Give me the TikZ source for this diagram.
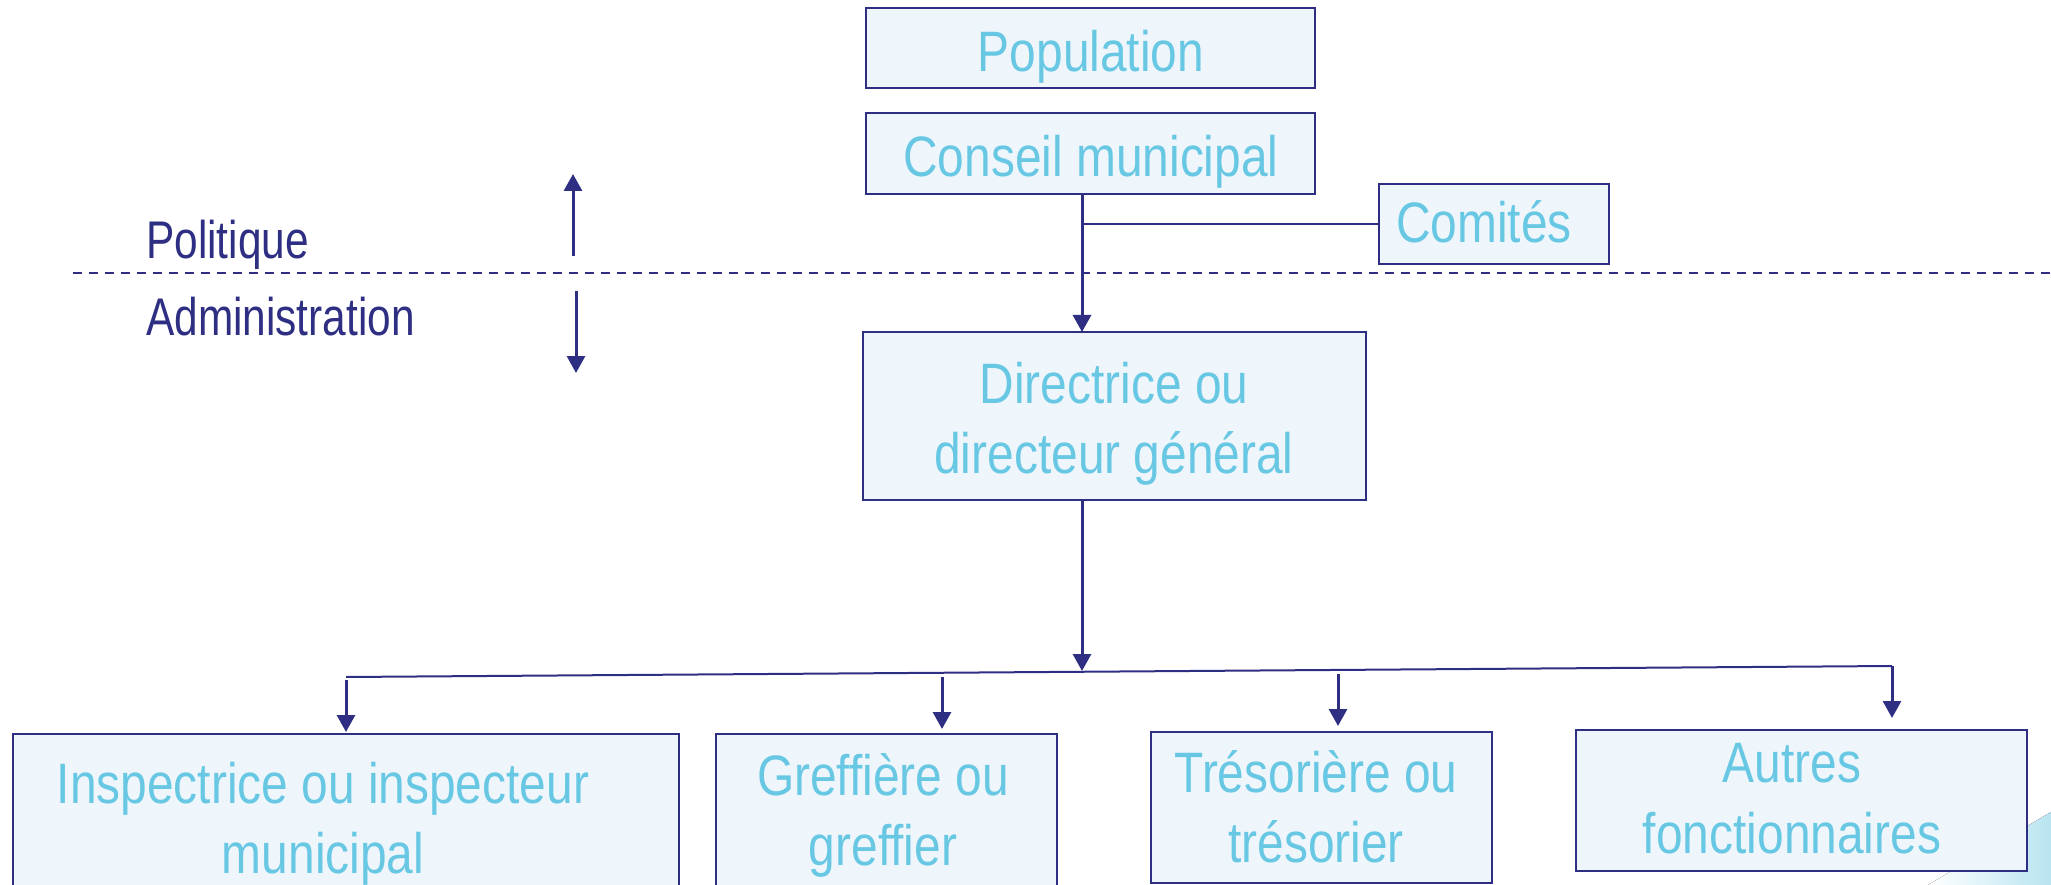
\documentclass[tikz,border=0pt]{standalone}
\usepackage{fontspec}
\setmainfont{Liberation Sans}[FakeStretch=0.84]
\newfontfamily\sidefont{Liberation Sans}[FakeStretch=0.8]
\usetikzlibrary{arrows.meta}
\definecolor{navy}{RGB}{46,46,130}
\definecolor{boxfill}{RGB}{238,246,252}
\definecolor{txtblue}{RGB}{104,200,228}
\definecolor{swoosh}{RGB}{184,228,240}
\begin{document}
\begin{tikzpicture}[x=1pt,y=-1pt,
  box/.style={draw=navy, line width=2.5pt, fill=boxfill, inner sep=0pt, outer sep=0pt},
  boxtxt/.style={text=txtblue, inner sep=0pt, anchor=base, font=\fontsize{57}{70}\selectfont},
  sidetxt/.style={text=navy, inner sep=0pt, anchor=base west, font=\sidefont\fontsize{53}{60}\selectfont},
  conn/.style={draw=navy, line width=2pt},
  arr/.style={draw=navy, line width=3pt, -{Triangle[width=18pt,length=17pt]}},
  sepline/.style={draw=navy, line width=2.5pt, dash pattern=on 9pt off 7pt}]
\useasboundingbox (0,0) rectangle (2051,885);
\clip (0,0) rectangle (2051,885);
% background swoosh
\fill[left color=white, right color=swoosh] (1928,885) -- (2051,812) -- (2051,885) -- cycle;

% separator
\coordinate (sepL) at (73,273);
\coordinate (sepR) at (2051,273);
\draw[sepline] (sepL) -- (sepR);

% side labels
\node[sidetxt] (pol) at (146,259) {Politique};
\node[sidetxt] (adm) at (146,335) {Administration};
\coordinate (upA) at (573,256);
\coordinate (upB) at (573,174);
\coordinate (dnA) at (576,291);
\coordinate (dnB) at (576,373);
\draw[arr] (upA) -- (upB);
\draw[arr] (dnA) -- (dnB);

% boxes
\node[box, minimum width=449pt, minimum height=80pt] (pop) at (1090.5,48) {};
\node[box, minimum width=449pt, minimum height=81pt] (cons) at (1090.5,153.5) {};
\node[box, minimum width=230pt, minimum height=80pt] (com) at (1494,224) {};
\node[box, minimum width=503pt, minimum height=168pt] (dir) at (1114.5,416) {};
\node[box, minimum width=666pt, minimum height=170pt] (insp) at (346,819) {};
\node[box, minimum width=341pt, minimum height=170pt] (gref) at (886.5,819) {};
\node[box, minimum width=341pt, minimum height=151pt] (tres) at (1321.5,807.5) {};
\node[box, minimum width=451pt, minimum height=141pt] (autr) at (1801.5,800.5) {};

% texts
\node[boxtxt] (popT) at (1091,72) {Population};
\node[boxtxt] (consT) at (1091,177) {Conseil municipal};
\node[boxtxt] (comT) at (1484,243) {Comités};
\node[boxtxt] (dirT1) at (1114,403) {Directrice ou};
\node[boxtxt] (dirT2) at (1114,473) {directeur général};
\node[boxtxt] (inspT1) at (323,803) {Inspectrice ou inspecteur};
\node[boxtxt] (inspT2) at (323,873) {municipal};
\node[boxtxt] (grefT1) at (883,795) {Greffière ou};
\node[boxtxt] (grefT2) at (883,865) {greffier};
\node[boxtxt] (tresT1) at (1316,792) {Trésorière ou};
\node[boxtxt] (tresT2) at (1316,862) {trésorier};
\node[boxtxt] (autrT1) at (1792,782) {Autres};
\node[boxtxt] (autrT2) at (1792,853) {fonctionnaires};

% connectors
\coordinate (jx) at (1082,0);
\draw[arr] (cons.south -| jx) -- (dir.north -| jx);
\draw[conn] (jx |- com.west) -- (com.west);
\coordinate (hub) at (1082,671);
\draw[arr] (dir.south -| jx) -- (hub);
\coordinate (hl) at (346,677);
\coordinate (hr) at (1892,666);
\draw[conn] (hl) -- (hr);
\draw[arr, shorten >=12pt] (hr) -- (autr.north -| hr);
\coordinate (t1) at (346,680);
\coordinate (t2) at (942,677);
\coordinate (t3) at (1338,674);
\draw[arr, shorten >=2pt] (t1) -- (insp.north -| t1);
\draw[arr, shorten >=5pt] (t2) -- (gref.north -| t2);
\draw[arr, shorten >=6pt] (t3) -- (tres.north -| t3);
\end{tikzpicture}
\end{document}
